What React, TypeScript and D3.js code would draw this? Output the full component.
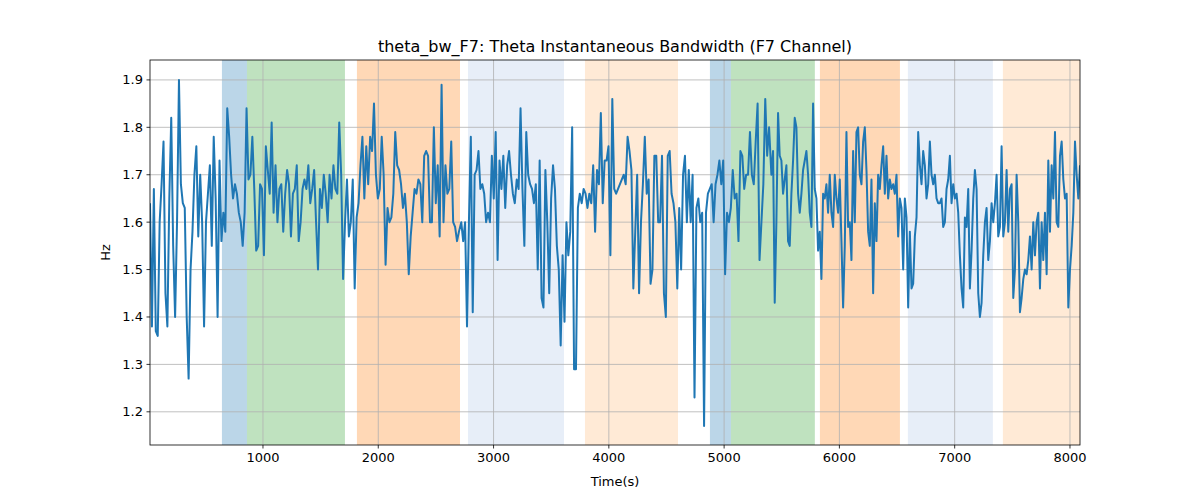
import React from "react";
import * as d3 from "d3";

const seg1 = [1.64,1.38,1.67,1.37,1.36,1.6,1.68,1.77,1.45,1.38,1.65,1.82,1.55,1.4,1.6,1.9,1.68,1.64,1.63,1.4,1.27,1.5,1.58,1.7,1.76,1.57,1.7,1.6,1.38,1.6,1.66,1.72,1.55,1.78,1.65,1.4,1.73,1.56,1.62,1.58,1.84,1.78,1.7,1.65,1.68,1.66,1.62,1.6,1.55,1.62,1.84,1.69,1.7,1.78,1.67,1.54,1.55,1.68,1.67,1.53,1.76,1.71,1.66,1.81,1.62,1.72,1.6,1.67,1.68,1.58,1.66,1.71,1.68,1.57,1.66,1.67,1.72,1.56,1.6,1.67,1.69,1.67,1.72,1.64,1.67,1.71,1.6,1.5,1.67,1.63,1.7,1.66,1.6,1.7,1.65,1.72,1.67,1.66,1.81,1.7,1.48,1.6,1.69,1.57,1.6,1.69,1.46,1.61,1.64,1.72,1.78,1.65,1.76,1.68,1.78,1.75,1.85,1.7,1.65,1.67,1.78,1.7,1.51,1.63,1.6,1.61,1.66,1.79,1.72,1.71,1.68,1.63,1.66,1.6,1.49,1.57,1.62,1.67,1.66,1.69,1.68,1.6,1.74,1.75,1.74,1.6,1.6,1.8,1.64,1.72,1.57,1.89,1.6,1.72,1.66,1.67,1.77,1.6,1.59,1.56,1.58];
const seg2 = [1.6,1.56,1.6,1.38,1.6,1.78,1.41,1.7,1.71,1.75,1.67,1.68,1.66,1.6,1.62,1.6,1.74,1.65,1.79,1.52,1.73,1.67,1.74,1.63,1.72,1.75,1.7,1.66,1.64,1.69,1.67,1.84,1.67,1.55,1.79,1.7,1.68,1.67,1.64,1.68,1.5,1.73,1.44,1.42,1.71,1.6,1.45,1.65,1.72,1.67,1.55,1.5,1.34,1.53,1.39,1.6,1.53,1.58,1.8,1.29,1.29,1.63,1.66,1.64,1.67,1.66,1.63,1.66,1.64,1.72,1.58,1.71,1.68,1.83,1.64,1.73,1.73,1.76,1.53,1.86,1.67,1.66,1.67,1.68,1.69,1.7,1.68,1.78,1.75,1.71,1.46,1.58,1.7,1.45,1.6,1.68,1.78,1.66,1.69,1.47,1.5,1.74,1.74,1.6,1.6,1.74,1.45,1.4,1.74,1.75,1.66,1.64,1.6,1.46,1.63,1.5,1.7,1.74,1.6,1.71,1.6,1.7,1.23,1.63,1.65,1.6,1.62,1.17,1.62,1.66,1.67,1.68,1.6,1.68,1.7,1.73,1.68,1.73,1.49,1.62,1.6,1.63,1.71,1.65,1.66,1.56,1.75,1.74,1.67,1.7,1.7,1.79,1.7,1.68,1.77,1.85,1.52,1.6,1.68,1.86,1.74,1.8];
const seg3 = [1.7,1.75,1.43,1.6,1.83,1.74,1.73,1.66,1.69,1.72,1.56,1.55,1.66,1.73,1.82,1.8,1.66,1.62,1.66,1.71,1.73,1.75,1.7,1.62,1.59,1.85,1.67,1.65,1.54,1.58,1.48,1.66,1.65,1.68,1.62,1.7,1.62,1.59,1.7,1.65,1.62,1.69,1.56,1.42,1.55,1.79,1.59,1.6,1.52,1.75,1.6,1.79,1.8,1.7,1.68,1.77,1.8,1.71,1.58,1.55,1.69,1.45,1.64,1.56,1.7,1.67,1.72,1.76,1.66,1.74,1.65,1.69,1.67,1.68,1.66,1.7,1.57,1.65,1.63,1.5,1.65,1.61,1.42,1.58,1.46,1.47,1.57,1.61,1.79,1.72,1.68,1.75,1.72,1.65,1.68,1.77,1.7,1.68,1.7,1.65,1.64,1.64,1.65,1.59,1.6,1.67,1.69,1.74,1.64,1.68,1.65,1.66,1.62,1.53,1.46,1.42,1.61,1.59,1.67,1.46,1.54,1.65,1.71,1.67,1.45,1.4,1.43,1.53,1.6,1.63,1.52,1.56,1.64,1.6,1.64,1.7,1.57,1.59,1.76,1.57,1.6,1.71,1.58,1.67,1.68,1.44,1.5,1.7,1.6,1.41,1.44,1.48,1.5,1.49,1.52,1.57,1.5,1.6,1.53,1.6,1.62,1.46,1.6,1.52,1.62,1.49,1.73,1.58,1.72,1.65,1.79,1.6,1.59,1.74,1.77,1.69,1.65,1.66,1.42,1.5,1.55,1.62,1.77,1.7,1.65,1.72];
const segRanges = [[20, 2700], [2720, 5390], [5410, 8087]];

const spans = [
  { x0: 644, x1: 861, color: "#1f77b4" },
  { x0: 861, x1: 1711, color: "#2ca02c" },
  { x0: 1815, x1: 2709, color: "#ff7f0e" },
  { x0: 2778, x1: 3611, color: "#aec7e8" },
  { x0: 3793, x1: 4600, color: "#ffbb78" },
  { x0: 4877, x1: 5059, color: "#1f77b4" },
  { x0: 5059, x1: 5787, color: "#2ca02c" },
  { x0: 5831, x1: 6525, color: "#ff7f0e" },
  { x0: 6594, x1: 7331, color: "#aec7e8" },
  { x0: 7418, x1: 8087, color: "#ffbb78" },
];
const xTicks = [1000, 2000, 3000, 4000, 5000, 6000, 7000, 8000];
const yTicks = [1.2, 1.3, 1.4, 1.5, 1.6, 1.7, 1.8, 1.9];

export default function App() {
  const L = 150, R = 1080, T = 60, B = 445;
  const x = d3.scaleLinear().domain([20, 8087]).range([L, R]);
  const y = d3.scaleLinear().domain([1.13, 1.942]).range([B, T]);
  const pts: [number, number][] = [];
  [seg1, seg2, seg3].forEach((s, i) => {
    const [a, b] = segRanges[i];
    s.forEach((v, j) => pts.push([a + ((b - a) * j) / (s.length - 1), v]));
  });
  const line = d3.line<[number, number]>().x(d => x(d[0])).y(d => y(d[1]));
  const font = "DejaVu Sans, sans-serif";
  return (
    <svg width={1200} height={500} style={{ position: "absolute", left: 0, top: 0 }} fontFamily={font}>
      <rect width={1200} height={500} fill="#fff" />
      <defs><clipPath id="c"><rect x={L} y={T} width={R - L} height={B - T} /></clipPath></defs>
      {spans.map((s, i) => (
        <rect key={i} x={x(s.x0)} y={T} width={x(s.x1) - x(s.x0)} height={B - T} fill={s.color} fillOpacity={0.3} />
      ))}
      {xTicks.map(t => <line key={t} x1={x(t)} x2={x(t)} y1={T} y2={B} stroke="#b0b0b0" strokeWidth={0.8} />)}
      {yTicks.map(t => <line key={t} x1={L} x2={R} y1={y(t)} y2={y(t)} stroke="#b0b0b0" strokeWidth={0.8} />)}
      <path d={line(pts) || ""} fill="none" stroke="#1f77b4" strokeWidth={2} strokeLinejoin="round" clipPath="url(#c)" />
      <rect x={L} y={T} width={R - L} height={B - T} fill="none" stroke="#000" strokeWidth={0.8} />
      {xTicks.map(t => (
        <g key={t}>
          <line x1={x(t)} x2={x(t)} y1={B} y2={B + 3.5} stroke="#000" strokeWidth={0.8} />
          <text x={x(t)} y={B + 17} textAnchor="middle" fontSize={13}>{t}</text>
        </g>
      ))}
      {yTicks.map(t => (
        <g key={t}>
          <line x1={L - 3.5} x2={L} y1={y(t)} y2={y(t)} stroke="#000" strokeWidth={0.8} />
          <text x={L - 7} y={y(t) + 4.5} textAnchor="end" fontSize={13}>{t.toFixed(1)}</text>
        </g>
      ))}
      <text x={(L + R) / 2} y={486} textAnchor="middle" fontSize={13}>Time(s)</text>
      <text transform={`translate(110,${(T + B) / 2}) rotate(-90)`} textAnchor="middle" fontSize={13}>Hz</text>
      <text x={(L + R) / 2} y={52} textAnchor="middle" fontSize={16}>theta_bw_F7: Theta Instantaneous Bandwidth (F7 Channel)</text>
    </svg>
  );
}
